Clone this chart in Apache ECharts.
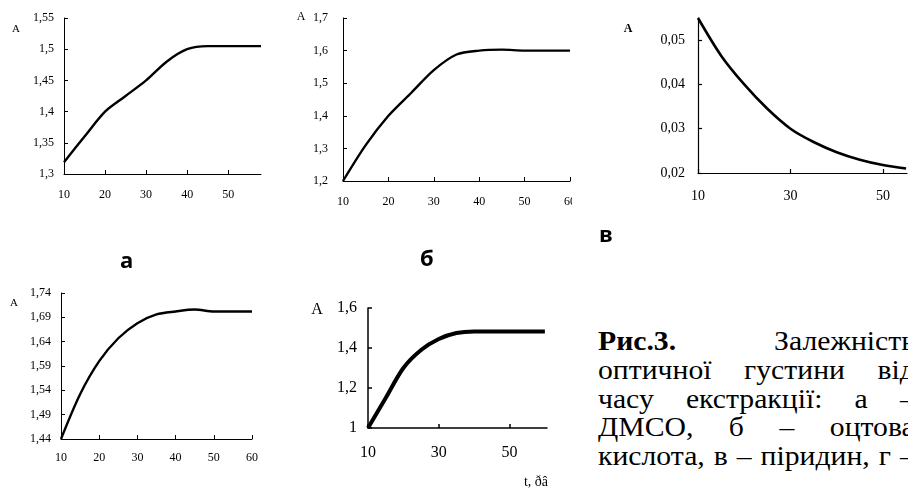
<!DOCTYPE html>
<html>
<head>
<meta charset="utf-8">
<script src="https://cdn.jsdelivr.net/npm/echarts@6/dist/echarts.min.js"></script>
<style>
  html, body { margin: 0; padding: 0; background: #fff; }
  body { width: 908px; height: 489px; position: relative; overflow: hidden; }
  .chart { position: absolute; }
  .tag { position: absolute; font-family: "Open Sans", sans-serif; font-weight: 700; font-size: 22px; line-height: 22px; color: #000; }
  #caption { position: absolute; left: 598px; top: 327px; width: 288px; font-family: "Liberation Serif", serif; font-size: 27px; line-height: 28.8px; color: #000; transform: scaleX(1.1); transform-origin: 0 0; }
  #caption div { text-align: justify; text-align-last: justify; white-space: nowrap; }
</style>
</head>
<body>
<div id="chartA" class="chart" style="left:0;top:0;width:290px;height:215px"></div>
<div id="chartB" class="chart" style="left:290px;top:0;width:282px;height:215px"></div>
<div id="chartC" class="chart" style="left:590px;top:0;width:318px;height:225px"></div>
<div id="chartD" class="chart" style="left:0;top:270px;width:290px;height:219px"></div>
<div id="chartE" class="chart" style="left:290px;top:270px;width:290px;height:219px"></div>

<div class="tag" style="left:120px;top:248px">а</div>
<div class="tag" style="left:420px;top:246px">б</div>
<div class="tag" style="left:599px;top:222px">в</div>

<div id="caption">
  <div><b>Рис.3.</b> Залежність</div>
  <div>оптичної густини від</div>
  <div>часу екстракції: а –</div>
  <div>ДМСО, б – оцтова</div>
  <div>кислота, в – піридин, г –</div>
</div>

<script>
  // а – ДМСО
  var timeA = [10, 15, 20, 25, 30, 35, 40, 45, 50, 55, 58];
  var optA = [1.319, 1.36, 1.40, 1.425, 1.45, 1.48, 1.50, 1.505, 1.505, 1.505, 1.505];
  var xTicksA = [10, 20, 30, 40, 50];
  var yTicksA = [1.3, 1.35, 1.4, 1.45, 1.5, 1.55];

  // б – оцтова кислота
  var timeB = [10, 15, 20, 25, 30, 35, 40, 45, 50, 55, 60];
  var optB = [1.2, 1.31, 1.40, 1.47, 1.54, 1.588, 1.60, 1.603, 1.60, 1.60, 1.60];
  var xTicksB = [10, 20, 30, 40, 50, 60];
  var yTicksB = [1.2, 1.3, 1.4, 1.5, 1.6, 1.7];

  // в – піридин
  var timeC = [10, 15, 20, 25, 30, 35, 40, 45, 50, 55];
  var optC = [0.055, 0.0465, 0.040, 0.0345, 0.030, 0.027, 0.0247, 0.023, 0.0218, 0.021];
  var xTicksC = [10, 30, 50];
  var yTicksC = [0.02, 0.03, 0.04, 0.05];

  // нижній лівий
  var timeD = [10, 15, 20, 25, 30, 35, 40, 45, 50, 55, 60];
  var optD = [1.44, 1.532, 1.60, 1.647, 1.678, 1.696, 1.702, 1.706, 1.702, 1.702, 1.702];
  var xTicksD = [10, 20, 30, 40, 50, 60];
  var yTicksD = [1.44, 1.49, 1.54, 1.59, 1.64, 1.69, 1.74];

  // нижній середній
  var timeE = [10, 15, 20, 25, 30, 35, 40, 45, 50, 55, 60];
  var optE = [1.0, 1.15, 1.30, 1.39, 1.445, 1.475, 1.483, 1.483, 1.483, 1.483, 1.483];
  var xTicksE = [10, 30, 50];
  var yTicksE = [1, 1.2, 1.4, 1.6];

  function fmt(v) {
    return String(+v.toFixed(3)).replace('.', ',');
  }

  function textEl(x, y, text, size, bold, align) {
    return {
      type: 'text', x: x, y: y,
      style: { text: text, fill: '#000', fontFamily: 'Liberation Serif', fontSize: size,
               fontWeight: bold ? 'bold' : 'normal', align: align || 'center', verticalAlign: 'middle' }
    };
  }

  function drawChart(id, o) {
    var myChart = echarts.init(document.getElementById(id));
    var axisLine = { show: true, onZero: false, lineStyle: { color: '#000', width: o.axisW } };
    var tick = { show: true, inside: true, length: 4, lineStyle: { color: '#000', width: o.axisW } };
    var grid = Object.assign({ outerBoundsMode: 'none', containLabel: false }, o.grid);
    myChart.setOption({
      animation: false,
      grid: grid,
      xAxis: {
        type: 'value', min: o.xMin, max: o.xMax,
        axisLine: axisLine,
        axisTick: Object.assign({ customValues: o.xTicks }, tick),
        axisLabel: { customValues: o.xTicks, color: '#000', fontFamily: 'Liberation Serif',
                     fontSize: o.font, margin: o.xMargin, formatter: fmt },
        splitLine: { show: false }
      },
      yAxis: {
        type: 'value', min: o.yMin, max: o.yMax,
        axisLine: axisLine,
        axisTick: Object.assign({ customValues: o.yTicks }, tick),
        axisLabel: { customValues: o.yTicks, color: '#000', fontFamily: 'Liberation Serif',
                     fontSize: o.font, margin: o.yMargin, formatter: fmt },
        splitLine: { show: false }
      },
      series: [{
        type: 'line',
        data: o.x.map(function (t, i) { return [t, o.y[i]]; }),
        showSymbol: false,
        smooth: 0.3,
        lineStyle: { color: '#000', width: o.lineW }
      }],
      graphic: o.graphic
    });
  }

  drawChart('chartA', {
    grid: { left: 64, top: 18, width: 197, height: 156 },
    xMin: 10, xMax: 58, yMin: 1.3, yMax: 1.55,
    x: timeA, y: optA, xTicks: xTicksA, yTicks: yTicksA,
    font: 12, xMargin: 15, yMargin: 10, axisW: 1, lineW: 2.4,
    graphic: [textEl(16, 29, 'A', 11)]
  });

  drawChart('chartB', {
    grid: { left: 53, top: 18, width: 227, height: 163 },
    xMin: 10, xMax: 60, yMin: 1.2, yMax: 1.7,
    x: timeB, y: optB, xTicks: xTicksB, yTicks: yTicksB,
    font: 12, xMargin: 15, yMargin: 15, axisW: 1, lineW: 2.4,
    graphic: [textEl(11, 17, 'A', 12)]
  });

  drawChart('chartC', {
    grid: { left: 108, top: 18, width: 209, height: 155 },
    xMin: 10, xMax: 55.2, yMin: 0.02, yMax: 0.055,
    x: timeC, y: optC, xTicks: xTicksC, yTicks: yTicksC,
    font: 14, xMargin: 16, yMargin: 13, axisW: 1.2, lineW: 2.6,
    graphic: [textEl(38, 29, 'A', 12, true)]
  });

  drawChart('chartD', {
    grid: { left: 61, top: 23, width: 191, height: 146 },
    xMin: 10, xMax: 60, yMin: 1.44, yMax: 1.74,
    x: timeD, y: optD, xTicks: xTicksD, yTicks: yTicksD,
    font: 12, xMargin: 13, yMargin: 10, axisW: 1, lineW: 2.4,
    graphic: [textEl(14, 33, 'A', 11)]
  });

  drawChart('chartE', {
    grid: { left: 78, top: 38, width: 179, height: 120 },
    xMin: 10, xMax: 60.6, yMin: 1, yMax: 1.6,
    x: timeE, y: optE, xTicks: xTicksE, yTicks: yTicksE,
    font: 16, xMargin: 17, yMargin: 11, axisW: 1.5, lineW: 4,
    graphic: [textEl(27, 40, 'A', 16), textEl(258, 212, 't, ðâ', 14, false, 'right')]
  });
</script>
</body>
</html>
